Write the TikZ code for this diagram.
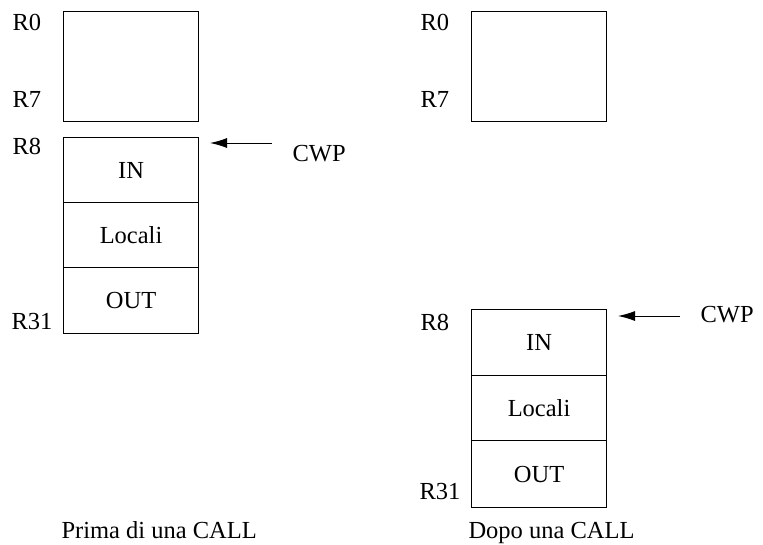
\documentclass[tikz,border=0pt]{standalone}
\usepackage{fontspec}
\setmainfont{Liberation Serif}
\usetikzlibrary{arrows.meta}
\begin{document}
\begin{tikzpicture}[x=1pt,y=-1pt,line width=1.1pt,
  font=\fontsize{24.5}{29}\selectfont,
  regbox/.style={draw,minimum width=135pt,minimum height=110pt,anchor=north west,inner sep=0pt},
  sect/.style={draw,minimum width=135pt,minimum height=#1,anchor=north west,inner sep=0pt,text height=16pt,text depth=0pt},
  lab/.style={anchor=base west,inner sep=0pt},
  cwparrow/.style={-{Latex[length=17pt,width=10pt]},line width=1pt}]
\useasboundingbox (0,0) rectangle (763,544);
% left: before the CALL
\node[regbox] (Ltop) at (63,11) {};
\node[sect=65pt] (Lin) at (63,137) {IN};
\node[sect=65pt] (Lloc) at (63,202) {Locali};
\node[sect=66pt] (Lout) at (63,267) {OUT};
\node[lab] (LR0) at (12,30) {R0};
\node[lab] (LR7) at (12,107) {R7};
\node[lab] (LR8) at (12,154) {R8};
\node[lab] (LR31) at (11,329) {R31};
\coordinate (La) at (272,143);
\coordinate (Lb) at (210,143);
\draw[cwparrow] (La) -- (Lb);
\node[lab] (Lcwp) at (292,161) {CWP};
\node[lab] (Lcap) at (61,538) {Prima di una CALL};
% right: after the CALL
\node[regbox] (Rtop) at (471,11) {};
\node[sect=66pt] (Rin) at (471,309) {IN};
\node[sect=65pt] (Rloc) at (471,375) {Locali};
\node[sect=67pt] (Rout) at (471,440) {OUT};
\node[lab] (RR0) at (420,30) {R0};
\node[lab] (RR7) at (420,107) {R7};
\node[lab] (RR8) at (420,330) {R8};
\node[lab] (RR31) at (419,499) {R31};
\coordinate (Ra) at (680,316);
\coordinate (Rb) at (618,316);
\draw[cwparrow] (Ra) -- (Rb);
\node[lab] (Rcwp) at (700,322) {CWP};
\node[lab] (Rcap) at (468,538) {Dopo una CALL};
\end{tikzpicture}
\end{document}
